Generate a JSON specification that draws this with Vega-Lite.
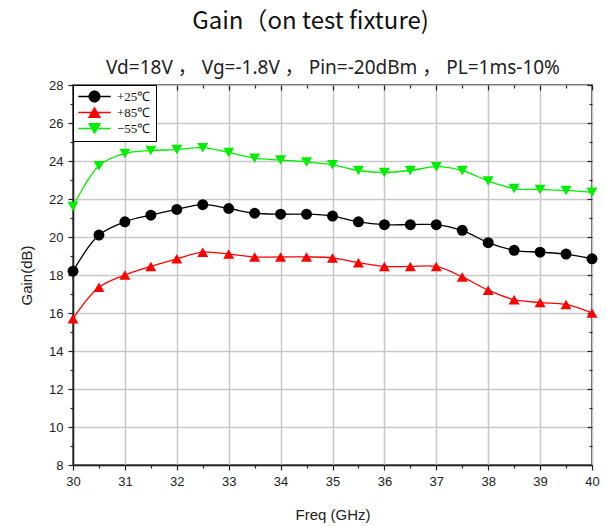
{
  "$schema": "https://vega.github.io/schema/vega-lite/v6.json",
  "width": 519,
  "height": 380,
  "autosize": {"type": "none"},
  "padding": {"left": 73, "top": 85, "right": 14, "bottom": 61},
  "background": "white",
  "title": {
    "text": "Gain（on test fixture)",
    "font": "Noto Sans CJK SC",
    "fontSize": 24,
    "fontWeight": "normal",
    "color": "#111111",
    "anchor": "middle",
    "dx": -22,
    "offset": 24
  },
  "config": {
    "view": {"stroke": "#222222", "strokeWidth": 1.5}
  },
  "data": {
    "values": [
      {"freq": 30.0, "gain": 18.2, "temp": "+25℃"},
      {"freq": 30.5, "gain": 20.1, "temp": "+25℃"},
      {"freq": 31.0, "gain": 20.8, "temp": "+25℃"},
      {"freq": 31.5, "gain": 21.15, "temp": "+25℃"},
      {"freq": 32.0, "gain": 21.45, "temp": "+25℃"},
      {"freq": 32.5, "gain": 21.7, "temp": "+25℃"},
      {"freq": 33.0, "gain": 21.5, "temp": "+25℃"},
      {"freq": 33.5, "gain": 21.25, "temp": "+25℃"},
      {"freq": 34.0, "gain": 21.2, "temp": "+25℃"},
      {"freq": 34.5, "gain": 21.2, "temp": "+25℃"},
      {"freq": 35.0, "gain": 21.1, "temp": "+25℃"},
      {"freq": 35.5, "gain": 20.8, "temp": "+25℃"},
      {"freq": 36.0, "gain": 20.65, "temp": "+25℃"},
      {"freq": 36.5, "gain": 20.65, "temp": "+25℃"},
      {"freq": 37.0, "gain": 20.65, "temp": "+25℃"},
      {"freq": 37.5, "gain": 20.35, "temp": "+25℃"},
      {"freq": 38.0, "gain": 19.7, "temp": "+25℃"},
      {"freq": 38.5, "gain": 19.3, "temp": "+25℃"},
      {"freq": 39.0, "gain": 19.2, "temp": "+25℃"},
      {"freq": 39.5, "gain": 19.1, "temp": "+25℃"},
      {"freq": 40.0, "gain": 18.85, "temp": "+25℃"},
      {"freq": 30.0, "gain": 15.7, "temp": "+85℃"},
      {"freq": 30.5, "gain": 17.35, "temp": "+85℃"},
      {"freq": 31.0, "gain": 18.0, "temp": "+85℃"},
      {"freq": 31.5, "gain": 18.45, "temp": "+85℃"},
      {"freq": 32.0, "gain": 18.85, "temp": "+85℃"},
      {"freq": 32.5, "gain": 19.2, "temp": "+85℃"},
      {"freq": 33.0, "gain": 19.1, "temp": "+85℃"},
      {"freq": 33.5, "gain": 18.95, "temp": "+85℃"},
      {"freq": 34.0, "gain": 18.95, "temp": "+85℃"},
      {"freq": 34.5, "gain": 18.95, "temp": "+85℃"},
      {"freq": 35.0, "gain": 18.9, "temp": "+85℃"},
      {"freq": 35.5, "gain": 18.65, "temp": "+85℃"},
      {"freq": 36.0, "gain": 18.45, "temp": "+85℃"},
      {"freq": 36.5, "gain": 18.45, "temp": "+85℃"},
      {"freq": 37.0, "gain": 18.45, "temp": "+85℃"},
      {"freq": 37.5, "gain": 17.9, "temp": "+85℃"},
      {"freq": 38.0, "gain": 17.2, "temp": "+85℃"},
      {"freq": 38.5, "gain": 16.7, "temp": "+85℃"},
      {"freq": 39.0, "gain": 16.55, "temp": "+85℃"},
      {"freq": 39.5, "gain": 16.45, "temp": "+85℃"},
      {"freq": 40.0, "gain": 16.0, "temp": "+85℃"},
      {"freq": 30.0, "gain": 21.6, "temp": "−55℃"},
      {"freq": 30.5, "gain": 23.75, "temp": "−55℃"},
      {"freq": 31.0, "gain": 24.4, "temp": "−55℃"},
      {"freq": 31.5, "gain": 24.55, "temp": "−55℃"},
      {"freq": 32.0, "gain": 24.6, "temp": "−55℃"},
      {"freq": 32.5, "gain": 24.7, "temp": "−55℃"},
      {"freq": 33.0, "gain": 24.45, "temp": "−55℃"},
      {"freq": 33.5, "gain": 24.15, "temp": "−55℃"},
      {"freq": 34.0, "gain": 24.05, "temp": "−55℃"},
      {"freq": 34.5, "gain": 23.95, "temp": "−55℃"},
      {"freq": 35.0, "gain": 23.8, "temp": "−55℃"},
      {"freq": 35.5, "gain": 23.5, "temp": "−55℃"},
      {"freq": 36.0, "gain": 23.4, "temp": "−55℃"},
      {"freq": 36.5, "gain": 23.5, "temp": "−55℃"},
      {"freq": 37.0, "gain": 23.7, "temp": "−55℃"},
      {"freq": 37.5, "gain": 23.5, "temp": "−55℃"},
      {"freq": 38.0, "gain": 22.95, "temp": "−55℃"},
      {"freq": 38.5, "gain": 22.55, "temp": "−55℃"},
      {"freq": 39.0, "gain": 22.5, "temp": "−55℃"},
      {"freq": 39.5, "gain": 22.45, "temp": "−55℃"},
      {"freq": 40.0, "gain": 22.35, "temp": "−55℃"}
    ]
  },
  "encoding": {
    "color": {
      "field": "temp",
      "type": "nominal",
      "scale": {"domain": ["+25℃", "+85℃", "−55℃"], "range": ["#000000", "#ff0000", "#00ee00"]},
      "legend": {
        "orient": "top-left",
        "offset": 0,
        "title": null,
        "strokeColor": "#000000",
        "fillColor": "#ffffff",
        "padding": 5,
        "symbolOffset": 10,
        "symbolSize": 144,
        "labelFont": "Liberation Serif",
        "labelFontSize": 13,
        "labelColor": "#111111",
        "labelOffset": 16,
        "rowPadding": 2,
        "encode": {
          "symbols": {
            "update": {
              "shape": {"signal": "datum.value === '+25℃' ? 'M-2.7,-0.11L2.7,-0.11L2.7,0.11L-2.7,0.11ZM1,0A1,1,0,1,1,-1,0A1,1,0,1,1,1,0Z' : datum.value === '+85℃' ? 'M-2.7,-0.11L2.7,-0.11L2.7,0.11L-2.7,0.11ZM0,-1L1.1,0.9L-1.1,0.9Z' : 'M-2.7,-0.11L2.7,-0.11L2.7,0.11L-2.7,0.11ZM0,1L-1.1,-0.9L1.1,-0.9Z'"},
              "fill": {"scale": "color", "field": "value"},
              "fillOpacity": {"value": 1},
              "strokeWidth": {"value": 0}
            }
          }
        }
      }
    }
  },
  "layer": [
    {
      "mark": {"type": "line", "interpolate": "catmull-rom", "strokeWidth": 1.3},
      "encoding": {
        "x": {
          "field": "freq",
          "type": "quantitative",
          "scale": {"domain": [30, 40], "nice": false, "zero": false},
          "axis": {
            "orient": "bottom",
            "values": [30, 30.5, 31, 31.5, 32, 32.5, 33, 33.5, 34, 34.5, 35, 35.5, 36, 36.5, 37, 37.5, 38, 38.5, 39, 39.5, 40],
            "format": "~g",
            "labelExpr": "datum.value % 1 === 0 ? datum.label : ''",
            "labelFlush": false,
            "labelOverlap": false,
            "labelFont": "Liberation Sans",
            "labelFontSize": 13,
            "labelColor": "#222222",
            "labelPadding": 5,
            "tickSize": {"condition": {"test": "datum.value % 1 === 0", "value": 5}, "value": 3},
            "tickColor": "#222222",
            "tickWidth": 1.2,
            "domainColor": "#222222",
            "domainWidth": 1.5,
            "grid": true,
            "gridColor": "#c8c8c8",
            "gridWidth": 1.5,
            "gridOpacity": {"condition": {"test": "datum.value % 1 === 0", "value": 1}, "value": 0},
            "title": "Freq (GHz)",
            "titleFont": "Liberation Sans",
            "titleFontSize": 15,
            "titleFontWeight": "normal",
            "titleColor": "#222222",
            "titlePadding": 19
          }
        },
        "y": {
          "field": "gain",
          "type": "quantitative",
          "scale": {"domain": [8, 28], "nice": false, "zero": false},
          "axis": {
            "orient": "left",
            "values": [8, 9, 10, 11, 12, 13, 14, 15, 16, 17, 18, 19, 20, 21, 22, 23, 24, 25, 26, 27, 28],
            "labelExpr": "datum.value % 2 === 0 ? datum.label : ''",
            "labelFlush": false,
            "labelOverlap": false,
            "labelFont": "Liberation Sans",
            "labelFontSize": 13,
            "labelColor": "#222222",
            "labelPadding": 5,
            "tickSize": {"condition": {"test": "datum.value % 2 === 0", "value": 5}, "value": 3},
            "tickColor": "#222222",
            "tickWidth": 1.2,
            "domainColor": "#222222",
            "domainWidth": 1.5,
            "grid": true,
            "gridColor": "#c8c8c8",
            "gridWidth": 1.5,
            "gridOpacity": {"condition": {"test": "datum.value % 2 === 0", "value": 1}, "value": 0},
            "title": "Gain(dB)",
            "titleFont": "Liberation Sans",
            "titleFontSize": 15,
            "titleFontWeight": "normal",
            "titleColor": "#222222",
            "titlePadding": 14
          }
        }
      }
    },
    {
      "transform": [{"filter": "datum.temp === '+25℃'"}],
      "mark": {"type": "point", "shape": "circle", "filled": true, "opacity": 1, "size": 120},
      "encoding": {
        "x": {
          "field": "freq",
          "type": "quantitative",
          "axis": {
            "orient": "top",
            "values": [30, 30.5, 31, 31.5, 32, 32.5, 33, 33.5, 34, 34.5, 35, 35.5, 36, 36.5, 37, 37.5, 38, 38.5, 39, 39.5, 40],
            "labels": false,
            "grid": false,
            "domain": false,
            "tickSize": {"condition": {"test": "datum.value % 1 === 0", "value": -5}, "value": -3},
            "tickColor": "#222222",
            "tickWidth": 1.2,
            "title": "Vd=18V ， Vg=-1.8V ， Pin=-20dBm ， PL=1ms-10%",
            "titleFont": "Noto Sans, Noto Sans CJK SC",
            "titleFontSize": 19,
            "titleFontWeight": "normal",
            "titleColor": "#222222",
            "titlePadding": 7
          }
        },
        "y": {
          "field": "gain",
          "type": "quantitative",
          "axis": {
            "orient": "right",
            "values": [8, 9, 10, 11, 12, 13, 14, 15, 16, 17, 18, 19, 20, 21, 22, 23, 24, 25, 26, 27, 28],
            "labels": false,
            "grid": false,
            "domain": false,
            "tickSize": {"condition": {"test": "datum.value % 2 === 0", "value": -5}, "value": -3},
            "tickColor": "#222222",
            "tickWidth": 1.2,
            "title": null
          }
        }
      }
    },
    {
      "transform": [{"filter": "datum.temp === '+85℃'"}],
      "mark": {"type": "point", "shape": "triangle-up", "filled": true, "opacity": 1, "size": 120},
      "encoding": {
        "x": {"field": "freq", "type": "quantitative", "axis": null},
        "y": {"field": "gain", "type": "quantitative", "axis": null}
      }
    },
    {
      "transform": [{"filter": "datum.temp === '−55℃'"}],
      "mark": {"type": "point", "shape": "triangle-down", "filled": true, "opacity": 1, "size": 120},
      "encoding": {
        "x": {"field": "freq", "type": "quantitative", "axis": null},
        "y": {"field": "gain", "type": "quantitative", "axis": null}
      }
    }
  ],
  "resolve": {"axis": {"x": "independent", "y": "independent"}}
}
